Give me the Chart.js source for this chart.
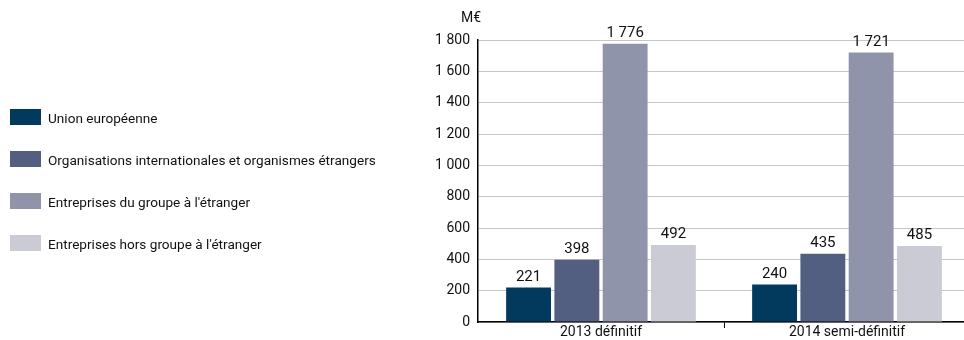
<!DOCTYPE html>
<html>
<head>
<meta charset="utf-8">
<script src="https://cdn.jsdelivr.net/npm/chart.js@4"></script>
<style>
  html, body { margin: 0; padding: 0; background: #fff; overflow: hidden; }
  #wrap { width: 970px; height: 340px; position: relative; }
</style>
</head>
<body>
<div id="wrap"><canvas id="myChart"></canvas></div>
<script>
const labels = ['2013 définitif', '2014 semi-définitif'];

const seriesNames = [
  'Union européenne',
  'Organisations internationales et organismes étrangers',
  "Entreprises du groupe à l'étranger",
  "Entreprises hors groupe à l'étranger"
];
const unionEuropeenne = [221, 240];
const organisations = [398, 435];
const groupeEtranger = [1776, 1721];
const horsGroupe = [492, 485];

const colors = ['#023a5d', '#535f80', '#9094aa', '#cbcbd5'];
const unit = 'M€';

const FONT = "Roboto, 'Liberation Sans', sans-serif";

function fmt(v) {
  return String(v).replace(/\B(?=(\d{3})+(?!\d))/g, ' ');
}

const seriesValues = [unionEuropeenne, organisations, groupeEtranger, horsGroupe];

const data = {
  labels: labels,
  datasets: seriesNames.map((name, i) => ({
    label: name,
    data: seriesValues[i],
    backgroundColor: colors[i],
    borderWidth: 0,
    categoryPercentage: 0.785,
    barPercentage: 0.93
  }))
};

// value above each bar
const valueLabels = {
  id: 'valueLabels',
  afterDatasetsDraw(chart) {
    const ctx = chart.ctx;
    ctx.save();
    ctx.font = '15px ' + FONT;
    ctx.fillStyle = '#111';
    ctx.textAlign = 'center';
    ctx.textBaseline = 'bottom';
    chart.data.datasets.forEach((ds, i) => {
      chart.getDatasetMeta(i).data.forEach((bar, j) => {
        ctx.fillText(fmt(ds.data[j]), bar.x, bar.y - 3);
      });
    });
    ctx.restore();
  }
};

// legend on the left + unit label
const sideLegend = {
  id: 'sideLegend',
  afterDraw(chart) {
    const ctx = chart.ctx;
    ctx.save();
    ctx.font = '13.6px ' + FONT;
    ctx.textBaseline = 'middle';
    ctx.textAlign = 'left';
    chart.data.datasets.forEach((ds, i) => {
      const y = 109 + i * 42;
      ctx.fillStyle = ds.backgroundColor;
      ctx.fillRect(10, y, 31, 16);
      ctx.fillStyle = '#111';
      ctx.fillText(ds.label, 48, y + 11);
    });
    const ys = chart.scales.y;
    ctx.font = '14px ' + FONT;
    ctx.textAlign = 'center';
    ctx.fillText(unit, ys.right - 7, chart.chartArea.top - 22);
    ctx.restore();
  }
};

const tickFont = { family: FONT, size: 14 };

const config = {
  type: 'bar',
  data: data,
  options: {
    responsive: true,
    maintainAspectRatio: false,
    animation: false,
    layout: {
      padding: { left: 418, top: 40, right: 0, bottom: 0 }
    },
    scales: {
      y: {
        min: 0,
        max: 1800,
        ticks: {
          stepSize: 200,
          padding: 8,
          color: '#111',
          font: tickFont,
          callback: v => fmt(v)
        },
        grid: { color: '#c6c6c6', drawTicks: false },
        border: { color: '#000', width: 1.5 },
        afterFit: s => { s.width = 60; }
      },
      x: {
        ticks: {
          padding: -4,
          color: '#111',
          font: tickFont
        },
        grid: {
          drawOnChartArea: false,
          tickLength: 6,
          color: c => (c.index === 1 ? '#000' : 'rgba(0,0,0,0)')
        },
        border: { color: '#000', width: 1.5 },
        afterFit: s => { s.height = 18; }
      }
    },
    plugins: {
      legend: { display: false },
      tooltip: { enabled: false }
    }
  },
  plugins: [valueLabels, sideLegend]
};

var myChart = new Chart(
  document.getElementById('myChart'),
  config
);
</script>
</body>
</html>
